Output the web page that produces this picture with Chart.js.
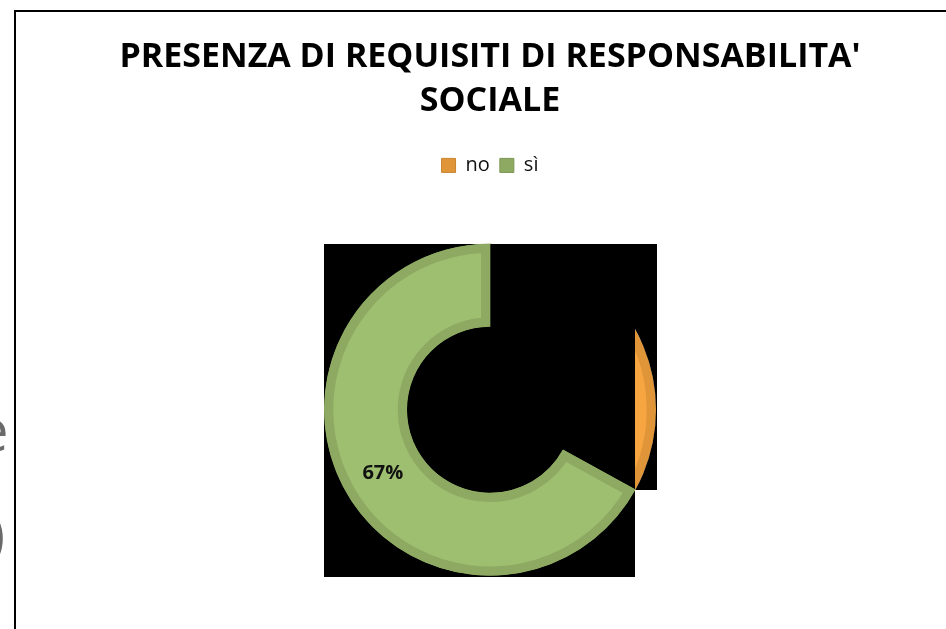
<!DOCTYPE html>
<html>
<head>
<meta charset="utf-8">
<script src="https://cdn.jsdelivr.net/npm/chart.js@4.4.0/dist/chart.umd.min.js"></script>
<style>
  html, body { margin: 0; padding: 0; background: #fff; overflow: hidden; width: 946px; height: 629px; }
  .frame { position: absolute; left: 14px; top: 10px; width: 940px; height: 640px; border-top: 2px solid #000; border-left: 2px solid #000; }
  .box { position: absolute; left: 34px; top: 14px; width: 912px; height: 720px; }
  .behind { position: absolute; font-family: "Open Sans"; color: #6a6a6a; font-size: 58px; line-height: 1; }
</style>
</head>
<body>
<div class="behind" style="left:-24px; top:400px">e</div>
<div class="behind" style="left:-12px; top:504px">)</div>
<div class="frame"></div>
<div class="box"><canvas id="chart"></canvas></div>
<script>
// dati del grafico
const labels = ["no", "sì"];
const values = [33, 67];
const titleLines = ["PRESENZA DI REQUISITI DI RESPONSABILITA'", "SOCIALE"];

const fillColors = ["#f7a541", "#9ebf70"];
const edgeColors = ["#e09538", "#8eaa62"];
const legendEdge = ["#c98430", "#7b9552"];

// parte nera sopra la ciambella + etichetta percentuale
const blackPatch = {
  id: "blackPatch",
  afterDatasetsDraw(chart) {
    const meta = chart.getDatasetMeta(0);
    const no = meta.data[0];
    const si = meta.data[1];
    const { x, y, outerRadius: r, endAngle } = no.getProps(["x", "y", "outerRadius", "endAngle"], true);
    const px = Math.round(x + r * Math.cos(endAngle));
    const py = Math.round(y + r * Math.sin(endAngle));
    const left = Math.round(x - r);
    const top = Math.round(y - r);
    const ctx = chart.ctx;

    ctx.save();
    ctx.fillStyle = "#000";
    ctx.fillRect(left, top, px - left, Math.round(2 * r) + 1);

    ctx.save();
    ctx.beginPath();
    ctx.rect(px - 1, top, Math.round(x + r) - px + 2, py - top);
    ctx.clip();
    ctx.beginPath();
    ctx.rect(px - 1, top, Math.round(x + r) - px + 2, py - top);
    ctx.arc(x, y, r, 0, Math.PI * 2);
    ctx.fill("evenodd");
    ctx.restore();

    ctx.fillRect(left, top, px - left, Math.round(2 * r) + 1);
    si.draw(ctx);

    const total = values.reduce((a, b) => a + b, 0);
    const pos = si.tooltipPosition();
    ctx.fillStyle = "#111";
    ctx.font = "bold 20px 'Open Sans'";
    ctx.textAlign = "center";
    ctx.textBaseline = "middle";
    ctx.fillText(Math.round((values[1] / total) * 100) + "%", pos.x, pos.y);
    ctx.restore();
  },
};

const ctx = document.getElementById("chart").getContext("2d");

new Chart(ctx, {
  type: "doughnut",
  data: {
    labels: labels,
    datasets: [
      {
        data: values,
        backgroundColor: fillColors,
        borderColor: edgeColors,
        borderWidth: 9,
        borderAlign: "inner",
        borderJoinStyle: "miter",
        radius: 166,
      },
    ],
  },
  options: {
    responsive: true,
    maintainAspectRatio: false,
    animation: false,
    events: [],
    cutout: "50%",
    layout: {
      padding: { bottom: 100 },
    },
    plugins: {
      tooltip: { enabled: false },
      title: {
        display: true,
        text: titleLines,
        color: "#000",
        font: { family: "Open Sans", size: 34, weight: "bold", lineHeight: 1.3 },
        padding: { top: 21, bottom: 22 },
      },
      legend: {
        position: "top",
        labels: {
          color: "#111",
          font: { family: "Open Sans", size: 20 },
          boxWidth: 14,
          boxHeight: 14,
          padding: 10,
          generateLabels: (chart) =>
            Chart.overrides.doughnut.plugins.legend.labels
              .generateLabels(chart)
              .map((item, i) => ({ ...item, fillStyle: edgeColors[i], strokeStyle: legendEdge[i], lineWidth: 1 })),
        },
      },
    },
  },
  plugins: [blackPatch],
});
</script>
</body>
</html>
